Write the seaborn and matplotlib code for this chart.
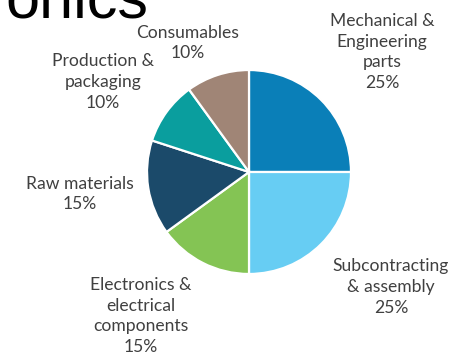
import matplotlib
matplotlib.use("Agg")
import matplotlib.pyplot as plt
import seaborn as sns

# Spend share by category
categories = [
    "Mechanical &\nEngineering\nparts",
    "Subcontracting\n& assembly",
    "Electronics &\nelectrical\ncomponents",
    "Raw materials",
    "Production &\npackaging",
    "Consumables",
]
shares = [25, 25, 15, 15, 10, 10]
colors = ["#0a7fb8", "#67cdf3", "#84c454", "#1b4a6a", "#0a9e9e", "#a08576"]

# label anchor points in figure pixels (x from left, y from top)
label_pos = [(382, 52), (391, 287), (141, 316), (80, 194), (103, 82), (188, 43)]

sns.set_theme(style="white")
plt.rcParams["font.family"] = ["Lato", "DejaVu Sans"]

W, H = 454, 357
fig = plt.figure(figsize=(W / 100, H / 100), dpi=100)
fig.patch.set_facecolor("white")

cx, cy, r = 249, 172, 103
ax = fig.add_axes([(cx - r) / W, (H - cy - r) / H, 2 * r / W, 2 * r / H])
ax.pie(
    shares,
    colors=sns.color_palette(colors),
    startangle=90,
    counterclock=False,
    radius=1,
    wedgeprops=dict(edgecolor="white", linewidth=1.6),
)
ax.set_xlim(-1.01, 1.01)
ax.set_ylim(-1.01, 1.01)
ax.set_aspect("equal")
ax.axis("off")

for name, val, (px, py) in zip(categories, shares, label_pos):
    fig.text(
        px / W, 1 - py / H, f"{name}\n{val}%",
        ha="center", va="center", fontsize=12.6, color="#404040",
        linespacing=1.38,
    )

# heading running in from the left edge
fig.text(148 / W, 1 - 17 / H, "onics", ha="right", va="baseline",
         fontsize=44, color="black", family=["Liberation Sans", "DejaVu Sans"])

fig.savefig("out.png", dpi=100)
